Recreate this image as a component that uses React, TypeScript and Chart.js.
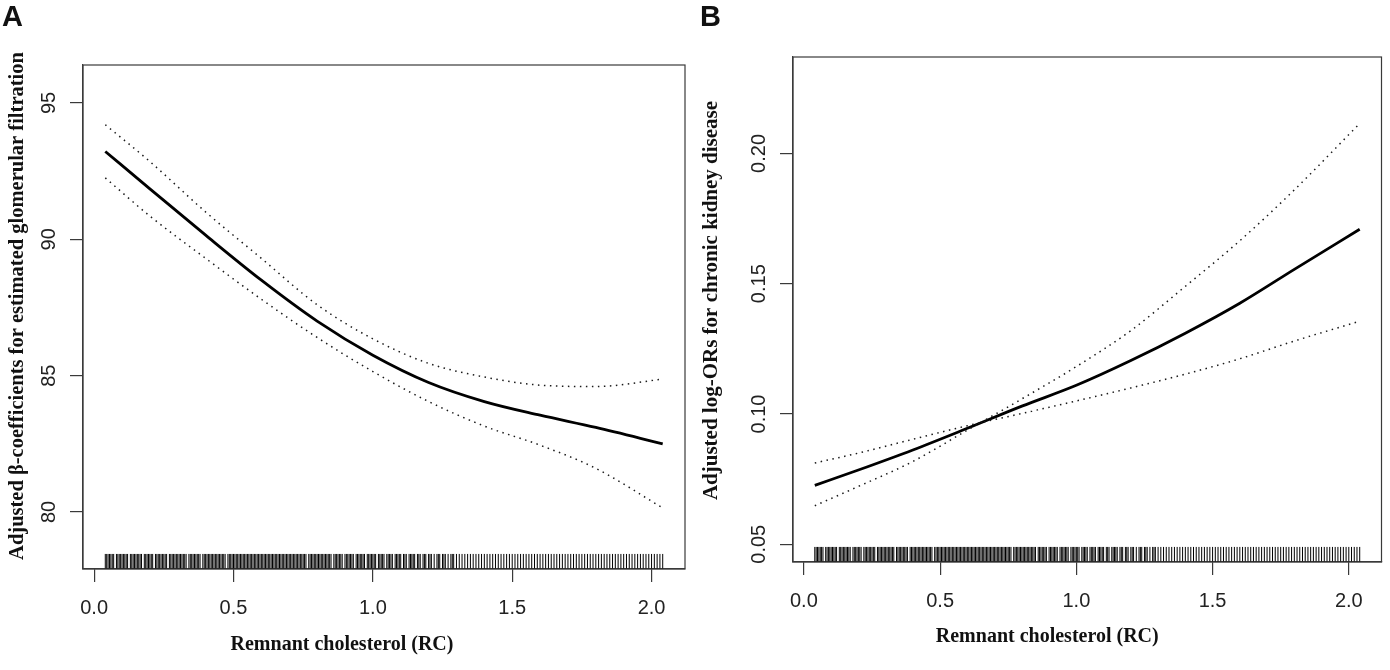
import React, { useEffect, useRef } from "react";
import { Chart, registerables } from "chart.js";
Chart.register(...registerables);

// ---------- data ----------
const xTickValues = [0, 0.5, 1.0, 1.5, 2.0];
const rcGrid = [0.04, 0.2, 0.4, 0.6, 0.8, 1.0, 1.2, 1.4, 1.6, 1.8, 2.04];

// Panel A: adjusted beta-coefficients for eGFR
const fitA = [93.22, 91.85, 90.15, 88.5, 87.0, 85.75, 84.75, 84.05, 83.55, 83.1, 82.5];
const upperA = [94.2, 92.85, 91.0, 89.3, 87.6, 86.35, 85.45, 84.95, 84.65, 84.6, 84.87];
const lowerA = [92.25, 90.85, 89.3, 87.8, 86.4, 85.15, 84.05, 83.15, 82.45, 81.6, 80.15];
const yTicksA = [80, 85, 90, 95];

// Panel B: adjusted log-ORs for CKD
const fitB = [0.0726, 0.0785, 0.0862, 0.0945, 0.103, 0.111, 0.1205, 0.131, 0.1425, 0.1555, 0.1709];
const ciFlatB = [0.0812, 0.085, 0.0903, 0.0955, 0.1002, 0.105, 0.11, 0.1153, 0.1212, 0.128, 0.1356];
const ciSteepB = [0.0648, 0.0722, 0.0818, 0.0938, 0.1058, 0.1182, 0.132, 0.149, 0.1665, 0.186, 0.2115];
const yTicksB = [0.05, 0.1, 0.15, 0.2];

// rug: observed remnant cholesterol values
const rugRC = [
  0.04, 0.05, 0.06, 0.07, 0.08, 0.09,
  0.1, 0.11, 0.12, 0.13, 0.14, 0.15, 0.16, 0.17, 0.18, 0.19,
  0.2, 0.21, 0.22, 0.23, 0.24, 0.25, 0.26, 0.27, 0.28, 0.29,
  0.3, 0.31, 0.32, 0.33, 0.34, 0.35, 0.36, 0.37, 0.38, 0.39,
  0.4, 0.41, 0.42, 0.43, 0.44, 0.45, 0.46, 0.47, 0.48, 0.49,
  0.5, 0.51, 0.52, 0.53, 0.54, 0.55, 0.56, 0.57, 0.58, 0.59,
  0.6, 0.61, 0.62, 0.63, 0.64, 0.65, 0.66, 0.67, 0.68, 0.69,
  0.7, 0.71, 0.72, 0.73, 0.74, 0.75, 0.76, 0.77, 0.78, 0.79,
  0.8, 0.81, 0.82, 0.83, 0.84, 0.85, 0.86, 0.87, 0.88, 0.89,
  0.9, 0.91, 0.92, 0.93, 0.94, 0.95, 0.96, 0.97, 0.98, 0.99,
  1.0, 1.01, 1.02, 1.03, 1.04, 1.05, 1.06, 1.07, 1.08, 1.09,
  1.1, 1.11, 1.12, 1.13, 1.14, 1.15, 1.16, 1.17, 1.18, 1.19,
  1.2, 1.21, 1.22, 1.23, 1.24, 1.25, 1.26, 1.27, 1.28, 1.29,
  1.3, 1.31, 1.32, 1.33, 1.34, 1.35, 1.36, 1.37, 1.38, 1.39,
  1.4, 1.41, 1.42, 1.43, 1.44, 1.45, 1.46, 1.47, 1.48, 1.49,
  1.5, 1.51, 1.52, 1.53, 1.54, 1.55, 1.56, 1.57, 1.58, 1.59,
  1.6, 1.61, 1.62, 1.63, 1.64, 1.65, 1.66, 1.67, 1.68, 1.69,
  1.7, 1.71, 1.72, 1.73, 1.74, 1.75, 1.76, 1.77, 1.78, 1.79,
  1.8, 1.81, 1.82, 1.83, 1.84, 1.85, 1.86, 1.87, 1.88, 1.89,
  1.9, 1.91, 1.92, 1.93, 1.94, 1.95, 1.96, 1.97, 1.98, 1.99,
  2.0, 2.01, 2.02, 2.03, 2.04,
];
// additional (finer-resolution) observed values in the dense low range
const rugRCFine = [
  0.045, 0.055, 0.065, 0.085, 0.095,
  0.105, 0.115, 0.135, 0.145, 0.155, 0.165, 0.185, 0.195,
  0.205, 0.225, 0.235, 0.245, 0.255, 0.275, 0.285, 0.295,
  0.305, 0.315, 0.325, 0.345, 0.355, 0.365, 0.375, 0.395,
  0.405, 0.415, 0.425, 0.435, 0.445, 0.455, 0.465, 0.485, 0.495,
  0.505, 0.515, 0.525, 0.535, 0.545, 0.555, 0.565, 0.575, 0.585, 0.595,
  0.605, 0.615, 0.625, 0.635, 0.645, 0.655, 0.665, 0.675, 0.685, 0.695,
  0.705, 0.715, 0.725, 0.735, 0.745, 0.755, 0.775, 0.785, 0.795,
  0.805, 0.815, 0.825, 0.835, 0.845, 0.865, 0.875, 0.885,
  0.905, 0.915, 0.925, 0.945, 0.955, 0.965, 0.985, 0.995,
  1.005, 1.025, 1.035, 1.055, 1.065, 1.085, 1.095,
  1.115, 1.135, 1.145, 1.165, 1.185,
  1.205, 1.235, 1.255, 1.285,
];

const xTitle = "Remnant cholesterol (RC)";
const yTitleA = "Adjusted \u03b2-coefficients for estimated glomerular filtration";
const yTitleB = "Adjusted log-ORs for chronic kidney disease";

// ---------- styling ----------
const AXIS_COLOR = "#3a3a3a";
const TEXT_COLOR = "#222";
const SANS = '"Liberation Sans", Arial, sans-serif';
const SERIF = '"Liberation Serif", "Times New Roman", serif';

const framePlugin = {
  id: "frame",
  afterDraw(chart: any, _args: any, opts: any) {
    const { ctx, chartArea: a } = chart;
    ctx.save();
    ctx.strokeStyle = AXIS_COLOR;
    ctx.lineWidth = 1.2;
    ctx.strokeRect(a.left, a.top, a.right - a.left, a.bottom - a.top);

    // y tick labels, parallel to the axis
    const ys = chart.scales.y;
    ctx.fillStyle = TEXT_COLOR;
    ctx.font = `20px ${SANS}`;
    ctx.textAlign = "center";
    ctx.textBaseline = "alphabetic";
    ys.ticks.forEach((t: any) => {
      const py = ys.getPixelForValue(t.value);
      ctx.save();
      ctx.translate(a.left - opts.labelGap, py);
      ctx.rotate(-Math.PI / 2);
      ctx.fillText(Number(t.value).toFixed(opts.decimals), 0, 0);
      ctx.restore();
    });

    // axis titles
    ctx.fillStyle = "#111";
    ctx.textBaseline = "middle";
    ctx.font = `bold ${opts.xTitleSize}px ${SERIF}`;
    ctx.fillText(opts.xTitle, (a.left + a.right) / 2 + opts.xTitleDx, opts.xTitleY);
    ctx.save();
    ctx.translate(opts.yTitleX, (a.top + a.bottom) / 2 + opts.yTitleDy);
    ctx.rotate(-Math.PI / 2);
    ctx.font = `bold ${opts.yTitleSize}px ${SERIF}`;
    ctx.fillText(opts.yTitle, 0, 0);
    ctx.restore();
    ctx.restore();
  },
};

type Panel = {
  fit: number[];
  ciA: number[];
  ciB: number[];
  yMin: number;
  yMax: number;
  yTicks: number[];
  decimals: number;
  yTitle: string;
  padTop: number;
  padRight: number;
  yWidth: number;
  xHeight: number;
  xTitleY: number;
  xTitleDx: number;
  yTitleX: number;
  yTitleDy: number;
  yTitleSize: number;
};

function buildConfig(p: Panel): any {
  const pts = (vals: number[]) => rcGrid.map((x, i) => ({ x, y: vals[i] }));
  const rugY = p.yMin + (p.yMax - p.yMin) * 0.015;
  const dotted = {
    borderColor: "#1a1a1a",
    borderWidth: 1.5,
    borderDash: [1.5, 4.5],
    pointRadius: 0,
    cubicInterpolationMode: "monotone",
    fill: false,
  };
  return {
    type: "line",
    data: {
      datasets: [
        {
          data: rugRC.concat(rugRCFine).map((x) => ({ x, y: rugY })),
          showLine: false,
          pointStyle: "line",
          rotation: 90,
          pointRadius: 7.5,
          pointBorderWidth: 1,
          pointBorderColor: "#000",
          borderColor: "#000",
          clip: false,
        },
        { data: pts(p.ciA), ...dotted },
        { data: pts(p.ciB), ...dotted },
        {
          data: pts(p.fit),
          borderColor: "#000",
          borderWidth: 2.8,
          pointRadius: 0,
          cubicInterpolationMode: "monotone",
          fill: false,
        },
      ],
    },
    options: {
      animation: false,
      responsive: false,
      events: [],
      layout: { padding: { top: p.padTop, right: p.padRight, left: 0, bottom: 0 } },
      plugins: {
        legend: { display: false },
        tooltip: { enabled: false },
        frame: {
          labelGap: 28,
          decimals: p.decimals,
          xTitle: xTitle,
          xTitleSize: 20,
          xTitleY: p.xTitleY,
          xTitleDx: p.xTitleDx,
          yTitle: p.yTitle,
          yTitleSize: p.yTitleSize,
          yTitleX: p.yTitleX,
          yTitleDy: p.yTitleDy,
        },
      },
      scales: {
        x: {
          type: "linear",
          min: -0.04,
          max: 2.12,
          afterBuildTicks: (s: any) => {
            s.ticks = xTickValues.map((v) => ({ value: v }));
          },
          afterFit: (s: any) => {
            s.height = p.xHeight;
          },
          ticks: {
            callback: (v: any) => Number(v).toFixed(1),
            font: { family: SANS, size: 20 },
            color: TEXT_COLOR,
            padding: 14,
            maxRotation: 0,
          },
          grid: {
            drawOnChartArea: false,
            drawTicks: true,
            tickLength: 13,
            color: AXIS_COLOR,
            lineWidth: 1.2,
          },
          border: { display: true, color: AXIS_COLOR, width: 1.2 },
        },
        y: {
          type: "linear",
          min: p.yMin,
          max: p.yMax,
          afterBuildTicks: (s: any) => {
            s.ticks = p.yTicks.map((v) => ({ value: v }));
          },
          afterFit: (s: any) => {
            s.width = p.yWidth;
          },
          ticks: { display: false },
          grid: {
            drawOnChartArea: false,
            drawTicks: true,
            tickLength: 13,
            color: AXIS_COLOR,
            lineWidth: 1.2,
          },
          border: { display: true, color: AXIS_COLOR, width: 1.2 },
        },
      },
    },
    plugins: [framePlugin],
  };
}

const panelA: Panel = {
  fit: fitA,
  ciA: upperA,
  ciB: lowerA,
  yMin: 77.91,
  yMax: 96.39,
  yTicks: yTicksA,
  decimals: 0,
  yTitle: yTitleA,
  padTop: 65,
  padRight: 10,
  yWidth: 83,
  xHeight: 101,
  xTitleY: 645,
  xTitleDx: -42,
  yTitleX: 18,
  yTitleDy: -11,
  yTitleSize: 20.5,
};

const panelB: Panel = {
  fit: fitB,
  ciA: ciFlatB,
  ciB: ciSteepB,
  yMin: 0.0432,
  yMax: 0.237,
  yTicks: yTicksB,
  decimals: 2,
  yTitle: yTitleB,
  padTop: 57,
  padRight: 2,
  yWidth: 98,
  xHeight: 108,
  xTitleY: 637,
  xTitleDx: -40,
  yTitleX: 17,
  yTitleDy: -9,
  yTitleSize: 21,
};

function PanelChart({ panel, left }: { panel: Panel; left: number }) {
  const ref = useRef<HTMLCanvasElement | null>(null);
  useEffect(() => {
    if (!ref.current) return;
    const chart = new Chart(ref.current, buildConfig(panel));
    return () => chart.destroy();
  }, [panel]);
  return (
    <canvas
      ref={ref}
      width={695}
      height={670}
      style={{ position: "absolute", left, top: 0, width: 695, height: 670 }}
    />
  );
}

const letterStyle: React.CSSProperties = {
  position: "absolute",
  top: 1,
  fontFamily: SANS,
  fontWeight: "bold",
  fontSize: 29,
  lineHeight: "30px",
  color: "#111",
};

export default function App() {
  return (
    <div
      style={{
        position: "absolute",
        left: 0,
        top: 0,
        width: 1390,
        height: 670,
        background: "#fff",
        overflow: "hidden",
      }}
    >
      <PanelChart panel={panelA} left={0} />
      <PanelChart panel={panelB} left={695} />
      <div style={{ ...letterStyle, left: 2 }}>A</div>
      <div style={{ ...letterStyle, left: 700 }}>B</div>
    </div>
  );
}
